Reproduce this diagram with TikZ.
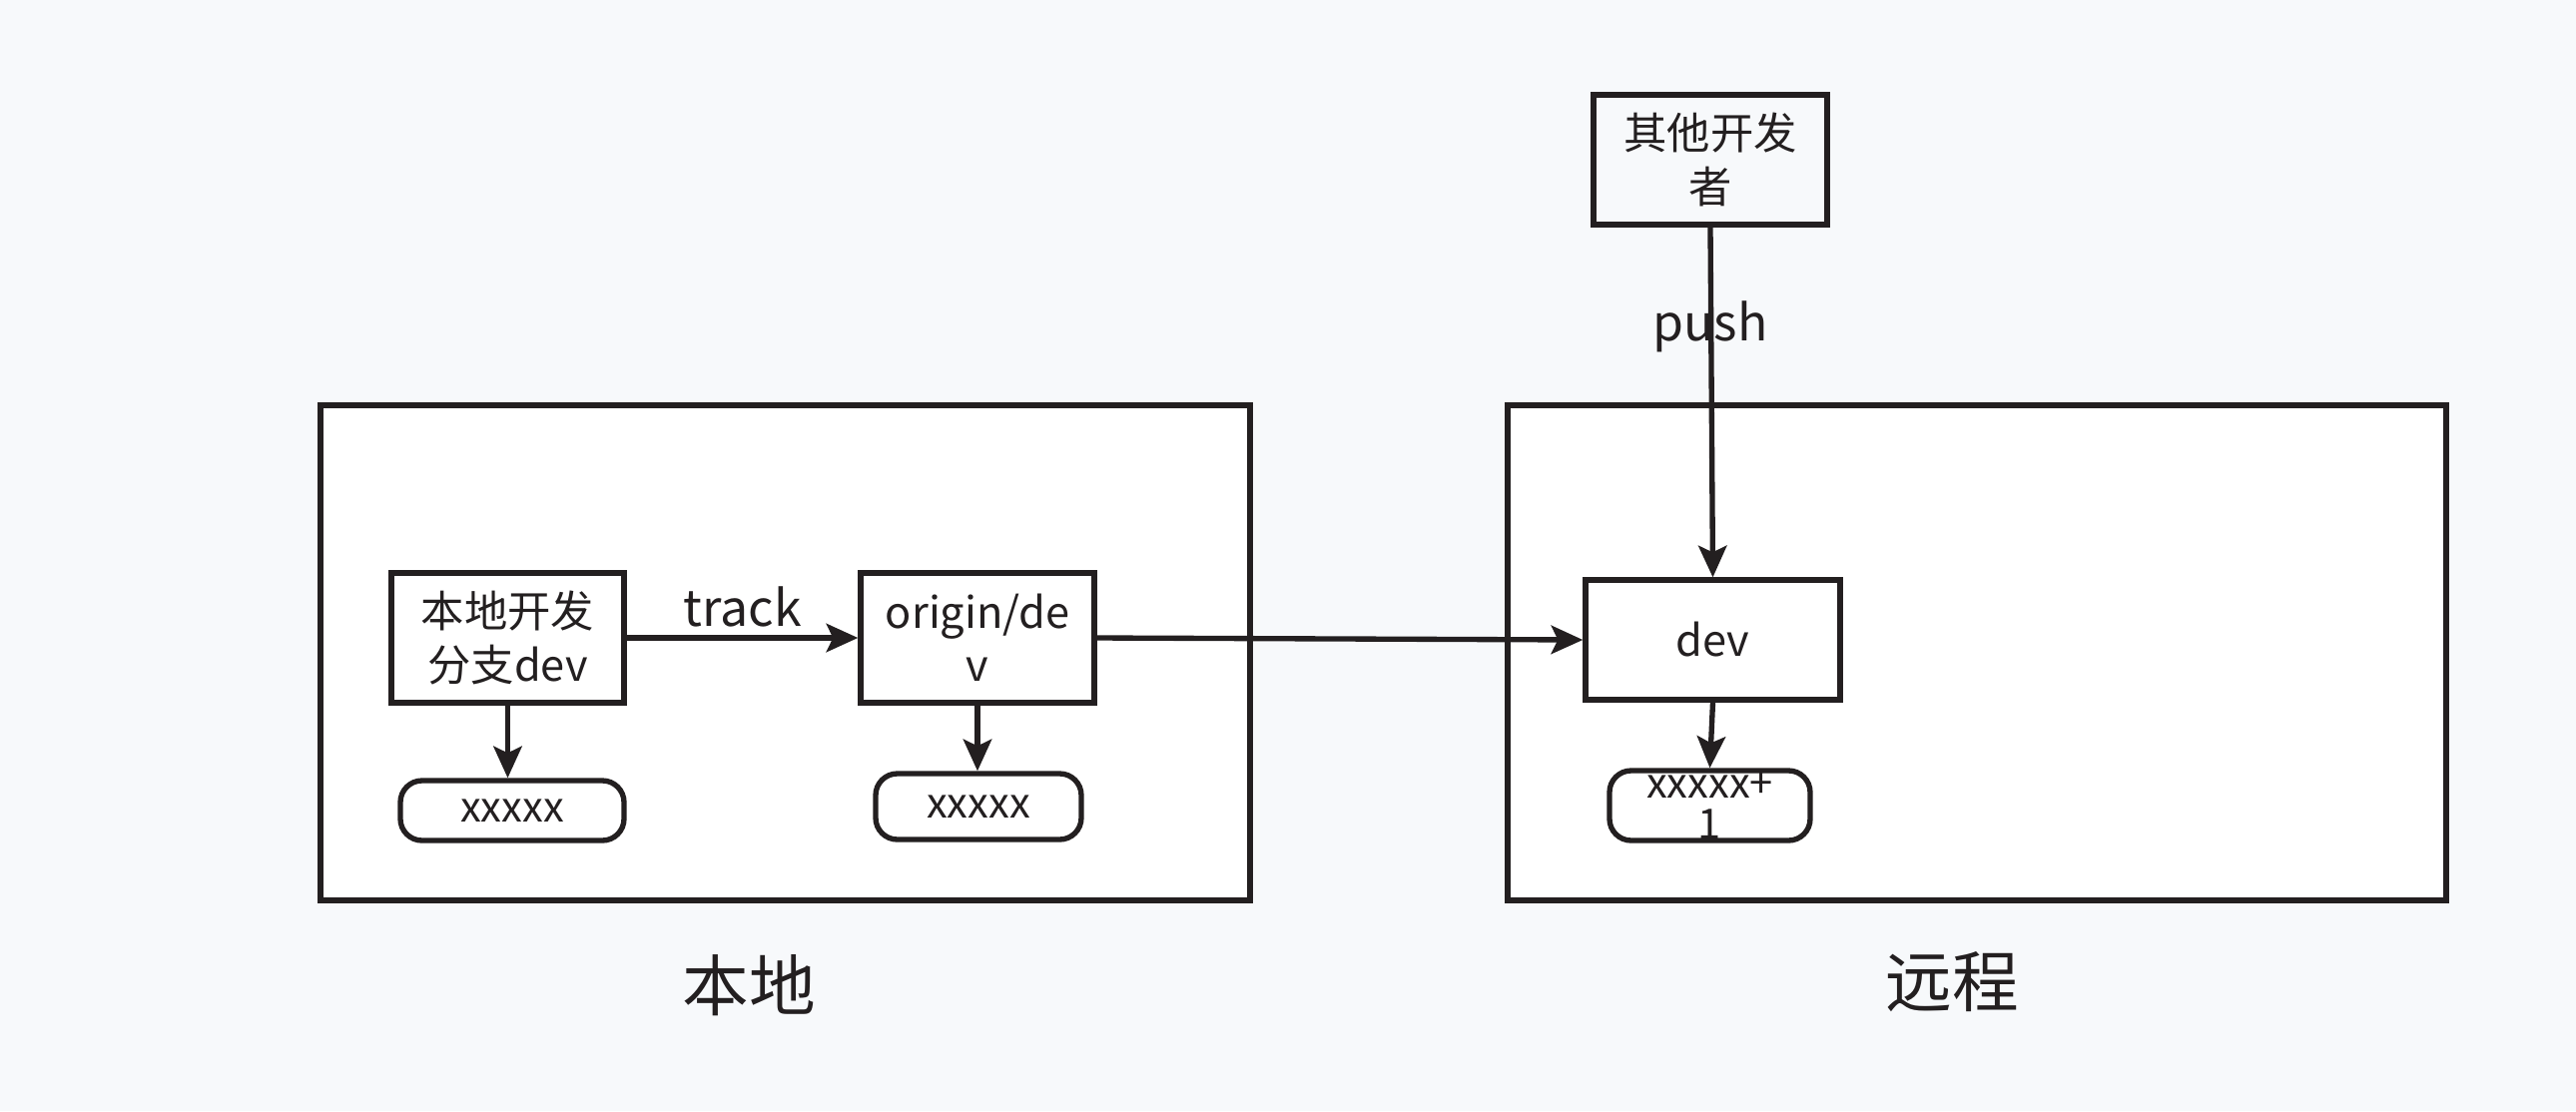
\documentclass[tikz,border=0pt]{standalone}
\usepackage{fontspec}
\setmainfont{Noto Sans CJK SC}
\usetikzlibrary{arrows.meta}
\definecolor{bgc}{HTML}{F7F9FB}
\definecolor{ink}{HTML}{231F20}
\tikzset{
  every node/.style={text=ink},
  frame/.style={draw=ink, line width=1.6pt, fill=white},
  boxA/.style={draw=ink, line width=1.6pt, align=center, font=\fontsize{13}{16}\selectfont, inner sep=0pt},
  pill/.style={draw=ink, line width=1.6pt, fill=white, rounded corners=6.5pt, align=center, font=\fontsize{12.5}{12.5}\selectfont, inner sep=0pt},
  conn/.style={draw=ink, line width=1.6pt, -{Stealth[length=9.5pt,width=8.5pt,inset=2pt]}},
  lbl/.style={font=\fontsize{15}{18}\selectfont},
  big/.style={font=\fontsize{20}{24}\selectfont}
}
\begin{document}
\begin{tikzpicture}[x=0.3pt,y=-0.3pt]
\useasboundingbox (0,0) rectangle (2580,1113);
\fill[bgc] (0,0) rectangle (2580,1113);
% containers
\draw[frame] (321,406) rectangle (1252,902);
\draw[frame] (1510,406) rectangle (2450,902);
% nodes
\node[boxA, minimum width=233*0.3pt, minimum height=130*0.3pt] (local) at (508.5,639) {本地开发\\分支dev};
\node[boxA, minimum width=234*0.3pt, minimum height=130*0.3pt] (origin) at (979,639) {origin/de\\v};
\node[boxA, fill=white, minimum width=255*0.3pt, minimum height=120*0.3pt] (dev) at (1715.5,641) {dev};
\node[boxA, minimum width=234*0.3pt, minimum height=130*0.3pt] (other) at (1713,160) {其他开发\\者};
\node[pill, minimum width=224*0.3pt, minimum height=60*0.3pt] (x1) at (513,812) {xxxxx};
\node[pill, minimum width=206*0.3pt, minimum height=66*0.3pt] (x2) at (980,808) {xxxxx};
\node[pill, minimum width=201*0.3pt, minimum height=70*0.3pt] (x3) at (1712.5,807) {xxxxx+\\1};
% connectors
\draw[conn] (local.east) -- node[lbl, above=-1pt] {track} (origin.west);
\draw[conn] (origin.east) -- (dev.west);
\draw[conn] (local.south) -- (local.south |- x1.north);
\draw[conn] (origin.south) -- (origin.south |- x2.north);
\draw[conn] (dev.south) -- (x3.north);
\draw[conn] (other.south) -- (dev.north);
\node[lbl] (push) at (1713,327) {push};
% labels
\node[big] (lloc) at (750,987) {本地};
\node[big] (lrem) at (1955,984) {远程};
\end{tikzpicture}
\end{document}
